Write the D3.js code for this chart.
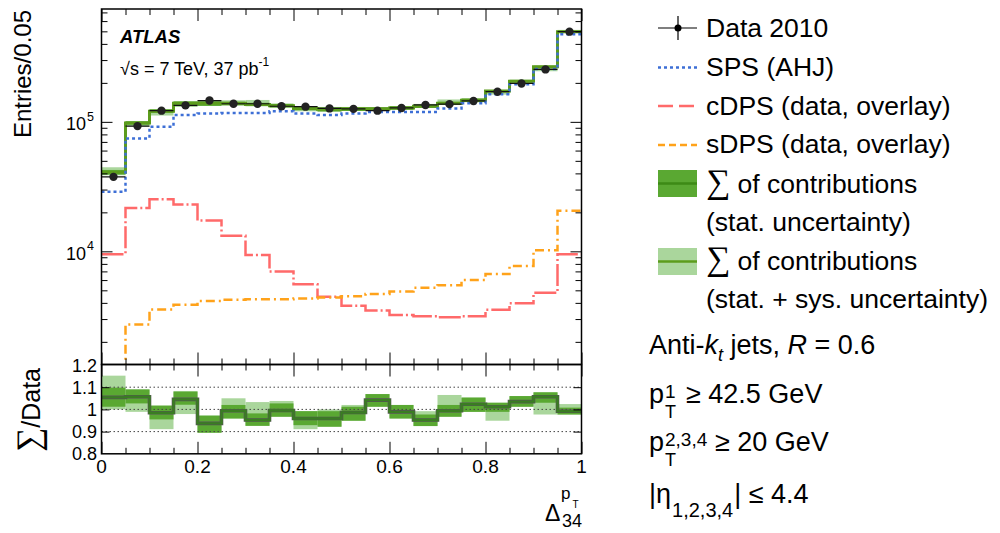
<!DOCTYPE html>
<html><head><meta charset="utf-8">
<script src="https://cdn.jsdelivr.net/npm/d3@7"></script>
<style>
body{margin:0;background:#fff}
text{font-family:"Liberation Sans",Arial,Helvetica,sans-serif;fill:#000}
.tick line{stroke:#000;stroke-width:1}
</style>
</head><body><svg id="c" width="1000" height="533"></svg>
<script>
// ---- data (bin edges and per-bin values) ----
const binEdges = [0,0.05,0.1,0.15,0.2,0.25,0.3,0.35,0.4,0.45,0.5,0.55,0.6,0.65,0.7,0.75,0.8,0.85,0.9,0.95,1.0];
const dataVals = [37600,92700,122000,134000,146000,138000,138000,132000,131000,127000,126000,122000,128000,135000,137000,145000,171000,198000,254000,497000];
const sumVals  = [40800,98000,121000,139000,139000,139000,136000,133000,127000,125000,126000,126000,128000,132000,139000,147000,173000,206000,266000,497000];
const spsVals  = [28800,74500,91500,113000,116000,117000,117000,121000,116000,113000,116000,119000,119000,119000,127000,139000,163000,195000,256000,474000];
const cdpsVals = [9500,21600,25200,23000,17300,13200,9360,7000,5580,4460,3800,3500,3220,3160,3100,3160,3540,3980,4790,9500];
const sdpsVals = [900,2720,3560,3870,4130,4230,4270,4270,4330,4400,4490,4680,4900,5240,5460,6000,6670,7690,10200,20600];
// ratio panel: Σ/Data central value and uncertainty band edges
const ratioVals = [1.054,1.057,0.985,1.045,0.937,0.994,0.952,0.995,0.959,0.959,0.986,1.042,0.989,0.952,0.994,1.023,1.012,1.035,1.057,0.992];
const statHi    = [1.098,1.090,1.017,1.080,0.971,1.020,0.982,1.027,0.992,0.992,1.012,1.069,1.020,0.977,1.020,1.053,1.030,1.060,1.077,1.008];
const statLo    = [1.012,1.027,0.955,1.021,0.895,0.959,0.926,0.967,0.929,0.922,0.949,1.012,0.959,0.925,0.967,0.989,0.989,1.012,1.030,0.977];
const sysHi     = [1.152,1.090,1.017,1.083,0.974,1.050,1.033,1.038,0.992,1.000,1.020,1.069,1.020,0.992,1.065,1.054,1.030,1.060,1.077,1.024];
const sysLo     = [1.000,0.989,0.911,0.979,0.895,0.959,0.926,0.967,0.911,0.922,0.949,1.012,0.959,0.925,0.967,0.989,0.949,1.012,0.977,0.977];
const xTickLabels = ["0","0.2","0.4","0.6","0.8","1"];
const xTickValues = [0,0.2,0.4,0.6,0.8,1];
const ratioTickLabels = ["0.8","0.9","1","1.1","1.2"];
const ratioTickValues = [0.8,0.9,1.0,1.1,1.2];
const logMajor = [1e4,1e5];
const logMajorExp = ["4","5"];

// ---- layout ----
const X0=101.5, X1=581.5, TOP=9, MID=364.5, BOT=453.8;
const svg = d3.select("#c");
svg.append("rect").attr("width",1000).attr("height",533).attr("fill","#fff");
const x = d3.scaleLinear().domain([0,1]).range([X0,X1]);
const y = d3.scaleLog().domain([1337,743800]).range([MID,TOP]);
const yr = d3.scaleLinear().domain([0.8,1.2]).range([BOT,365]);

const C = {sps:"#3d6fd6", cdps:"#ff6a6a", sdps:"#ffa21a", dark:"#5aa832", light:"#aad69c", sumLine:"#5c9c1c", ratioLine:"#3a7d22"};

svg.append("clipPath").attr("id","ctop").append("rect").attr("x",X0).attr("y",TOP).attr("width",X1-X0).attr("height",MID-TOP);
svg.append("clipPath").attr("id","cbot").append("rect").attr("x",X0).attr("y",MID).attr("width",X1-X0).attr("height",BOT-MID);

const bins = d3.range(20);
const stepLine = (sc) => d3.line().x(d=>x(d[0])).y(d=>sc(d[1])).curve(d3.curveStepAfter);
const stepPts = vals => vals.map((v,i)=>[binEdges[i],v]).concat([[binEdges[20],vals[19]]]);

// ---- top panel ----
const gTop = svg.append("g").attr("clip-path","url(#ctop)");
gTop.selectAll("rect.sys").data(bins).join("rect")
  .attr("x",i=>x(binEdges[i])).attr("width",i=>x(binEdges[i+1])-x(binEdges[i]))
  .attr("y",i=>y(sumVals[i]*sysHi[i]/ratioVals[i]))
  .attr("height",i=>y(sumVals[i]*sysLo[i]/ratioVals[i])-y(sumVals[i]*sysHi[i]/ratioVals[i]))
  .attr("fill",C.light);
gTop.selectAll("rect.stat").data(bins).join("rect")
  .attr("x",i=>x(binEdges[i])).attr("width",i=>x(binEdges[i+1])-x(binEdges[i]))
  .attr("y",i=>y(sumVals[i]*statHi[i]/ratioVals[i]))
  .attr("height",i=>y(sumVals[i]*statLo[i]/ratioVals[i])-y(sumVals[i]*statHi[i]/ratioVals[i]))
  .attr("fill",C.dark);
gTop.append("path").attr("d",stepLine(y)(stepPts(sumVals))).attr("fill","none").attr("stroke",C.sumLine).attr("stroke-width",3);
gTop.append("path").attr("d",stepLine(y)(stepPts(spsVals))).attr("fill","none").attr("stroke",C.sps).attr("stroke-width",2.5).attr("stroke-dasharray","3,3");
gTop.append("path").attr("d",stepLine(y)(stepPts(cdpsVals))).attr("fill","none").attr("stroke",C.cdps).attr("stroke-width",2.5).attr("stroke-dasharray","22,3,2,3");
gTop.append("path").attr("d",stepLine(y)(stepPts(sdpsVals))).attr("fill","none").attr("stroke",C.sdps).attr("stroke-width",2.5).attr("stroke-dasharray","9,4,2,4");
gTop.selectAll("line.dx").data(bins).join("line")
  .attr("x1",i=>x(binEdges[i])).attr("x2",i=>x(binEdges[i+1]))
  .attr("y1",i=>y(dataVals[i])).attr("y2",i=>y(dataVals[i]))
  .attr("stroke","#111").attr("stroke-width",1.2);
gTop.selectAll("circle").data(bins).join("circle")
  .attr("cx",i=>x((binEdges[i]+binEdges[i+1])/2)).attr("cy",i=>y(dataVals[i]))
  .attr("r",4.2).attr("fill","#222");

// ---- ratio panel ----
const gBot = svg.append("g").attr("clip-path","url(#cbot)");
gBot.selectAll("rect.sys").data(bins).join("rect")
  .attr("x",i=>x(binEdges[i])).attr("width",i=>x(binEdges[i+1])-x(binEdges[i]))
  .attr("y",i=>yr(sysHi[i])).attr("height",i=>yr(sysLo[i])-yr(sysHi[i])).attr("fill",C.light);
gBot.selectAll("rect.stat").data(bins).join("rect")
  .attr("x",i=>x(binEdges[i])).attr("width",i=>x(binEdges[i+1])-x(binEdges[i]))
  .attr("y",i=>yr(statHi[i])).attr("height",i=>yr(statLo[i])-yr(statHi[i])).attr("fill",C.dark);
[0.9,1.0,1.1].forEach(v=>{
  gBot.append("line").attr("x1",X0).attr("x2",X1).attr("y1",yr(v)).attr("y2",yr(v))
    .attr("stroke","#444").attr("stroke-width",1).attr("stroke-dasharray","1.5,2.5");
});
gBot.append("path").attr("d",stepLine(yr)(stepPts(ratioVals))).attr("fill","none").attr("stroke","#555").attr("stroke-width",3.6);
gBot.append("path").attr("d",stepLine(yr)(stepPts(ratioVals))).attr("fill","none").attr("stroke",C.ratioLine).attr("stroke-width",2.4);

// ---- axes ticks ----
const minorX = d3.range(0,21).map(i=>i*0.05).filter(v=>Math.abs(v*5-Math.round(v*5))>1e-6);
function ticks(axis, tr, vals, size){
  const g = svg.append("g").attr("transform",tr).call(axis.tickValues(vals).tickSize(size).tickFormat(""));
  g.select(".domain").remove();
}
ticks(d3.axisTop(x), `translate(0,${TOP})`, xTickValues, -12);
ticks(d3.axisTop(x), `translate(0,${TOP})`, minorX, -6);
ticks(d3.axisBottom(x), `translate(0,${MID})`, xTickValues, -12);
ticks(d3.axisBottom(x), `translate(0,${MID})`, minorX, -6);
ticks(d3.axisTop(x), `translate(0,${MID})`, xTickValues, -12);
ticks(d3.axisTop(x), `translate(0,${MID})`, minorX, -6);
ticks(d3.axisBottom(x), `translate(0,${BOT})`, xTickValues, -12);
ticks(d3.axisBottom(x), `translate(0,${BOT})`, minorX, -6);
const minorLog = [];
[1e3,1e4,1e5].forEach(d=>{for(let k=2;k<=9;k++){const v=k*d; if(v>1337&&v<743800) minorLog.push(v);}});
ticks(d3.axisLeft(y), `translate(${X0},0)`, logMajor, -11);
ticks(d3.axisLeft(y), `translate(${X0},0)`, minorLog, -6);
ticks(d3.axisRight(y), `translate(${X1},0)`, logMajor, -11);
ticks(d3.axisRight(y), `translate(${X1},0)`, minorLog, -6);
ticks(d3.axisLeft(yr), `translate(${X0},0)`, ratioTickValues.slice(1,4), -8);
ticks(d3.axisRight(yr), `translate(${X1},0)`, ratioTickValues.slice(1,4), -8);

svg.append("rect").attr("x",X0).attr("y",TOP).attr("width",X1-X0).attr("height",MID-TOP).attr("fill","none").attr("stroke","#000").attr("stroke-width",1.5);
svg.append("rect").attr("x",X0).attr("y",MID).attr("width",X1-X0).attr("height",BOT-MID).attr("fill","none").attr("stroke","#000").attr("stroke-width",1.5);

// ---- tick labels ----
xTickValues.forEach((v,i)=>{
  svg.append("text").attr("x",x(v)).attr("y",473).attr("text-anchor","middle").attr("font-size",19).text(xTickLabels[i]);
});
ratioTickValues.forEach((v,i)=>{
  svg.append("text").attr("x",97).attr("y",yr(v)+6.5).attr("text-anchor","end").attr("font-size",18).text(ratioTickLabels[i]);
});
logMajor.forEach((v,i)=>{
  svg.append("text").attr("x",86).attr("y",y(v)+8.5).attr("text-anchor","end").attr("font-size",18).text("10");
  svg.append("text").attr("x",87).attr("y",y(v)-1).attr("font-size",12.5).text(logMajorExp[i]);
});

// ---- axis titles ----
svg.append("text").attr("transform","translate(31,10) rotate(-90)").attr("text-anchor","end").attr("font-size",24).text("Entries/0.05");
const rt = svg.append("text").attr("transform","translate(40,452) rotate(-90)").attr("text-anchor","start");
rt.append("tspan").attr("font-family","'Liberation Serif','DejaVu Serif',serif").attr("font-size",34).text("∑");
rt.append("tspan").attr("font-size",25).text("/Data");
svg.append("text").attr("x",545).attr("y",521).attr("font-size",23).text("Δ");
svg.append("text").attr("x",562).attr("y",527).attr("font-size",18).text("34");
svg.append("text").attr("x",561).attr("y",499).attr("font-size",17).text("p");
svg.append("text").attr("x",572.5).attr("y",508).attr("font-size",10).text("T");

// ---- in-plot labels ----
svg.append("text").attr("x",120).attr("y",43).attr("font-size",18.5).attr("font-weight","bold").attr("font-style","italic").text("ATLAS");
const en = svg.append("text").attr("x",120).attr("y",75).attr("font-size",18);
en.append("tspan").text("√s = 7 TeV, 37 pb");
en.append("tspan").attr("font-size",12).attr("dy",-9).text("-1");

// ---- legend ----
const LX0=658, LX1=697, TX=706;
const rows = [37,76,114.5,153,193,231,270,308];
function legText(yb, parts){
  const t = svg.append("text").attr("x",TX).attr("y",yb).attr("font-size",26.5);
  parts.forEach(p=>{const s=t.append("tspan").text(p.t); if(p.serif) s.attr("font-family","'Liberation Serif','DejaVu Serif',serif").attr("font-size",34);});
}
svg.append("line").attr("x1",LX0).attr("x2",LX1).attr("y1",28).attr("y2",28).attr("stroke","#000").attr("stroke-width",1.2);
svg.append("line").attr("x1",678).attr("x2",678).attr("y1",16).attr("y2",40).attr("stroke","#000").attr("stroke-width",1.2);
svg.append("circle").attr("cx",678).attr("cy",28).attr("r",3.5).attr("fill","#000");
legText(rows[0],[{t:"Data 2010"}]);
svg.append("line").attr("x1",LX0).attr("x2",LX1).attr("y1",67.5).attr("y2",67.5).attr("stroke",C.sps).attr("stroke-width",2.5).attr("stroke-dasharray","3,3");
legText(rows[1],[{t:"SPS (AHJ)"}]);
svg.append("line").attr("x1",LX0).attr("x2",LX1).attr("y1",106).attr("y2",106).attr("stroke",C.cdps).attr("stroke-width",2.5).attr("stroke-dasharray","15,6");
legText(rows[2],[{t:"cDPS (data, overlay)"}]);
svg.append("line").attr("x1",LX0).attr("x2",LX1).attr("y1",145).attr("y2",145).attr("stroke",C.sdps).attr("stroke-width",2.5).attr("stroke-dasharray","7,4");
legText(rows[3],[{t:"sDPS (data, overlay)"}]);
svg.append("rect").attr("x",LX0).attr("y",170).attr("width",LX1-LX0).attr("height",27).attr("fill",C.dark);
svg.append("line").attr("x1",LX0).attr("x2",LX1).attr("y1",183.5).attr("y2",183.5).attr("stroke","#3d8a16").attr("stroke-width",2.5);
legText(rows[4],[{t:"∑",serif:true},{t:" of contributions"}]);
legText(rows[5],[{t:"(stat. uncertainty)"}]);
svg.append("rect").attr("x",LX0).attr("y",248).attr("width",LX1-LX0).attr("height",27).attr("fill",C.light);
svg.append("line").attr("x1",LX0).attr("x2",LX1).attr("y1",261.5).attr("y2",261.5).attr("stroke","#5c9c1c").attr("stroke-width",2.5);
legText(rows[6],[{t:"∑",serif:true},{t:" of contributions"}]);
legText(rows[7],[{t:"(stat. + sys. uncertainty)"}]);

// ---- cuts annotation ----
const AX=649, FS=27;
const a1 = svg.append("text").attr("x",AX).attr("y",354).attr("font-size",FS);
a1.append("tspan").text("Anti-");
a1.append("tspan").attr("font-style","italic").text("k");
a1.append("tspan").attr("font-style","italic").attr("font-size",18).attr("dy",7).text("t");
a1.append("tspan").attr("dy",-7).text(" jets, ");
a1.append("tspan").attr("font-style","italic").text("R");
a1.append("tspan").text(" = 0.6");

function ptLine(yb, sup, rest, restX){
  svg.append("text").attr("x",AX).attr("y",yb).attr("font-size",FS).text("p");
  svg.append("text").attr("x",665).attr("y",yb-5).attr("font-size",19).text(sup);
  svg.append("text").attr("x",665).attr("y",yb+15).attr("font-size",18).text("T");
  svg.append("text").attr("x",restX).attr("y",yb).attr("font-size",FS).text(rest);
}
ptLine(403,"1","≥ 42.5 GeV",686);
ptLine(451,"2,3,4","≥ 20 GeV",715);
const e1 = svg.append("text").attr("x",AX).attr("y",503).attr("font-size",FS);
e1.append("tspan").text("|η");
e1.append("tspan").attr("font-size",20).attr("dy",14).attr("dx",1).text("1,2,3,4");
e1.append("tspan").attr("dy",-14).attr("dx",1).text("| ≤ 4.4");
</script>
</body></html>
